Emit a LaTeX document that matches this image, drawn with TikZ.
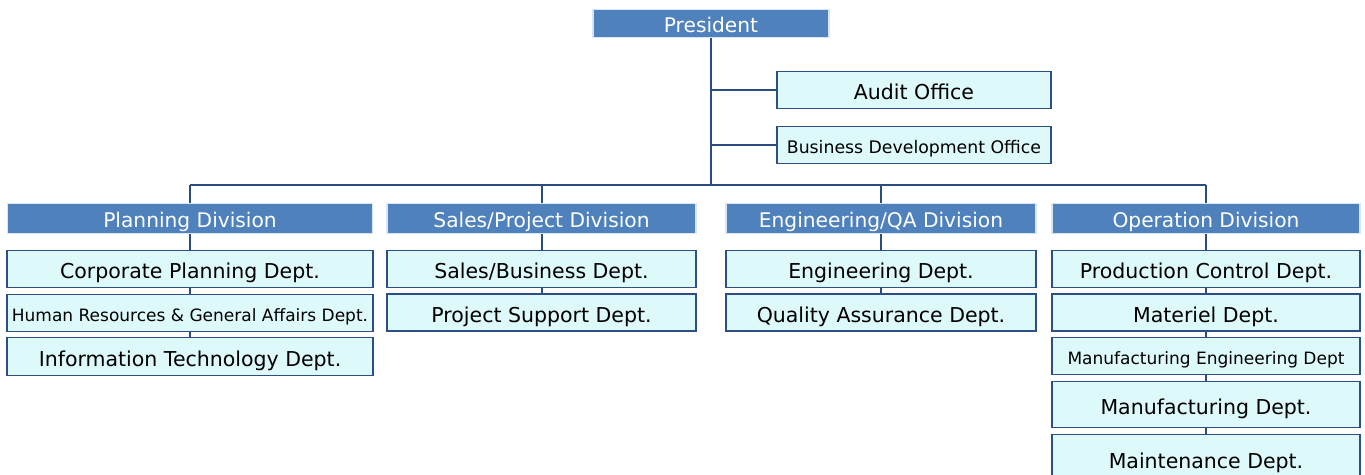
\documentclass[tikz,border=0pt]{standalone}
\usepackage{fontspec}
\setmainfont{DejaVu Sans}
\definecolor{divfill}{HTML}{4F81BD}
\definecolor{divborder}{HTML}{D6E6F4}
\definecolor{deptfill}{HTML}{DDF9FA}
\definecolor{deptborder}{HTML}{2C4F85}
\definecolor{linkcol}{HTML}{2B4C7E}
\begin{document}
\begin{tikzpicture}[x=1pt,y=-1pt,
  divbox/.style={draw=divborder, line width=1.5pt, fill=divfill, text=white,
    inner sep=0pt, minimum height=30pt, text height=17.5pt, text depth=0pt,
    font=\fontsize{20.2}{20.2}\selectfont},
  deptbox/.style={draw=deptborder, line width=1.9pt, fill=deptfill, text=black,
    inner sep=0pt, minimum height=37pt, text height=19pt, text depth=0pt,
    font=\fontsize{20.5}{20.5}\selectfont},
  smalltext/.style={font=\fontsize{17}{17}\selectfont, text height=16.5pt},
  link/.style={draw=linkcol, line width=2pt}
]
\useasboundingbox (0,0) rectangle (1365,474);
\clip (0,0) rectangle (1365,474);
\fill[white] (0,0) rectangle (1365,474);

% top
\node[divbox, minimum width=236pt, minimum height=28pt, text height=18.5pt] (pres) at (711,23.5) {President};
\node[deptbox, minimum width=274pt] (audit) at (914,90) {Audit Office};
\node[deptbox, minimum width=274pt, smalltext, font=\fontsize{17.3}{17.3}\selectfont] (bdo) at (914,145) {Business Development Office};

% divisions
\node[divbox, minimum width=365pt] (plan) at (190,218.5) {Planning Division};
\node[divbox, minimum width=309pt] (sales) at (541.5,218.5) {Sales/Project Division};
\node[divbox, minimum width=310pt] (eng) at (881,218.5) {Engineering/QA Division};
\node[divbox, minimum width=308pt] (op) at (1206,218.5) {Operation Division};

% planning depts
\node[deptbox, minimum width=366pt] (corp) at (190,269) {Corporate Planning Dept.};
\node[deptbox, minimum width=366pt, smalltext] (hr) at (190,313) {Human Resources \& General Affairs Dept.};
\node[deptbox, minimum width=366pt, minimum height=38pt] (it) at (190,356.5) {Information Technology Dept.};

% sales depts
\node[deptbox, minimum width=309pt] (salesbus) at (541.5,269) {Sales/Business Dept.};
\node[deptbox, minimum width=309pt] (projsup) at (541.5,312.5) {Project Support Dept.};

% engineering depts
\node[deptbox, minimum width=310pt] (engdept) at (881,269) {Engineering Dept.};
\node[deptbox, minimum width=310pt] (qa) at (881,312.5) {Quality Assurance Dept.};

% operation depts
\node[deptbox, minimum width=308pt] (prod) at (1206,269) {Production Control Dept.};
\node[deptbox, minimum width=308pt] (mat) at (1206,312.5) {Materiel Dept.};
\node[deptbox, minimum width=308pt, smalltext] (mfgeng) at (1206,356) {Manufacturing Engineering Dept};
\node[deptbox, minimum width=308pt, minimum height=46pt] (mfg) at (1206,404.5) {Manufacturing Dept.};
\node[deptbox, minimum width=308pt, minimum height=48pt] (maint) at (1206,458.5) {Maintenance Dept.};

% connectors
\coordinate (bus) at (711,185);
\coordinate (ja) at (711,90);
\coordinate (jb) at (711,145);
\path[link] (pres.south) -- (bus);
\path[link] (ja) -- (audit.west);
\path[link] (jb) -- (bdo.west);
\path[link] (plan.north |- bus) -- (op.north |- bus);
\path[link] (plan.north |- bus) -- (plan.north);
\path[link] (sales.north |- bus) -- (sales.north);
\path[link] (eng.north |- bus) -- (eng.north);
\path[link] (op.north |- bus) -- (op.north);

\path[link] (plan.south) -- (corp.north);
\path[link] (corp.south) -- (hr.north);
\path[link] (hr.south) -- (it.north);
\path[link] (sales.south) -- (salesbus.north);
\path[link] (salesbus.south) -- (projsup.north);
\path[link] (eng.south) -- (engdept.north);
\path[link] (engdept.south) -- (qa.north);
\path[link] (op.south) -- (prod.north);
\path[link] (prod.south) -- (mat.north);
\path[link] (mat.south) -- (mfgeng.north);
\path[link] (mfgeng.south) -- (mfg.north);
\path[link] (mfg.south) -- (maint.north);
\end{tikzpicture}
\end{document}
